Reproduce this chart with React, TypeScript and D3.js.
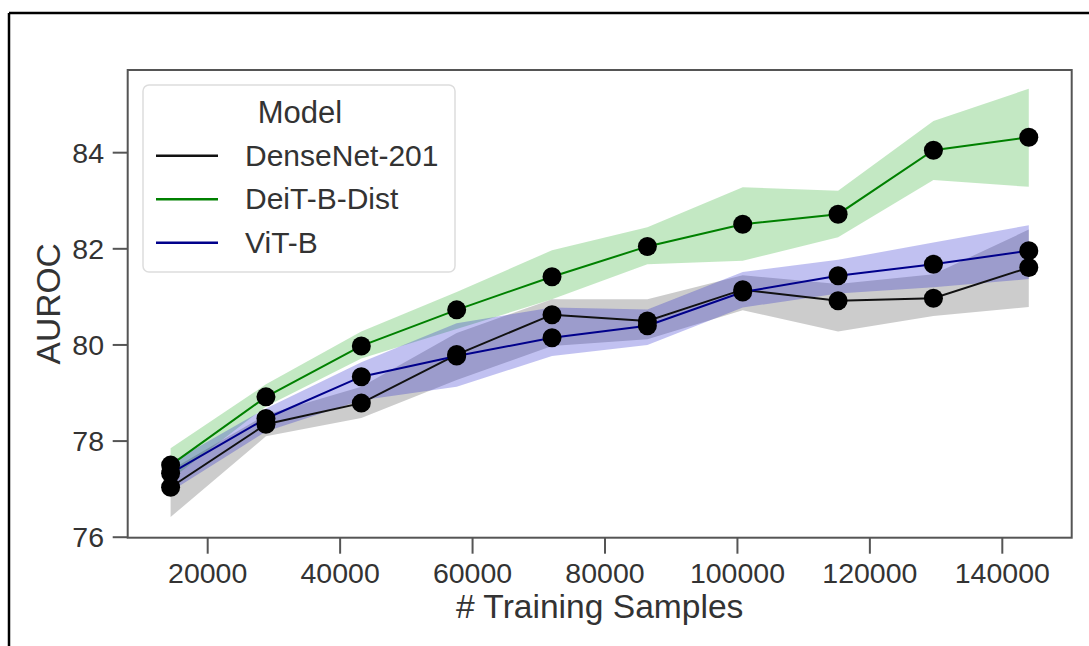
import React from 'react';
import * as d3 from 'd3';

// training set sizes (x) and per-model AUROC mean + band
const samples = [14400, 28800, 43200, 57600, 72000, 86400, 100800, 115200, 129600, 144000];

const denseMean = [77.04, 78.35, 78.79, 79.8, 80.63, 80.5, 81.15, 80.92, 80.97, 81.61];
const denseLo = [76.42, 78.1, 78.48, 79.27, 79.98, 80.12, 80.72, 80.28, 80.6, 80.79];
const denseHi = [77.4, 78.55, 79.13, 80.25, 80.95, 80.95, 81.45, 81.27, 81.47, 82.4];

const deitMean = [77.5, 78.92, 79.98, 80.73, 81.42, 82.05, 82.51, 82.72, 84.05, 84.32];
const deitLo = [77.2, 78.72, 79.72, 80.33, 80.95, 81.68, 81.75, 82.24, 83.43, 83.29];
const deitHi = [77.85, 79.18, 80.28, 81.1, 81.97, 82.45, 83.28, 83.21, 84.66, 85.33];

const vitMean = [77.33, 78.47, 79.34, 79.77, 80.15, 80.4, 81.1, 81.44, 81.68, 81.96];
const vitLo = [76.95, 78.2, 78.85, 79.13, 79.77, 80.0, 80.78, 81.07, 81.2, 81.37];
const vitHi = [77.55, 78.68, 79.64, 80.45, 80.78, 80.74, 81.52, 81.77, 82.13, 82.49];

const xTicks = [20000, 40000, 60000, 80000, 100000, 120000, 140000];
const yTicks = [76, 78, 80, 82, 84];

const models = [
  { name: 'DenseNet-201', line: '#111111', band: '#000000', bandOpacity: 0.2, mean: denseMean, lo: denseLo, hi: denseHi },
  { name: 'DeiT-B-Dist', line: '#008000', band: '#22aa22', bandOpacity: 0.27, mean: deitMean, lo: deitLo, hi: deitHi },
  { name: 'ViT-B', line: '#00008b', band: '#1a1acc', bandOpacity: 0.27, mean: vitMean, lo: vitLo, hi: vitHi },
];

const W = 1089;
const H = 646;
const plot = { left: 127.7, right: 1071.7, top: 70, bottom: 537.7 };
const font = '"Liberation Sans", Arial, sans-serif';
const axisColor = '#555';

export default function App() {
  const x = d3.scaleLinear().domain([7920, 150480]).range([plot.left, plot.right]);
  const y = d3.scaleLinear().domain([75.99, 85.72]).range([plot.bottom, plot.top]);

  const area = (lo: number[], hi: number[]) =>
    d3.area<number>()
      .x((d) => x(d))
      .y0((d, i) => y(lo[i]))
      .y1((d, i) => y(hi[i]))(samples) || '';

  const line = (vals: number[]) =>
    d3.line<number>()
      .x((d) => x(d))
      .y((d, i) => y(vals[i]))(samples) || '';

  const legendX = 143;
  const legendY = 85;

  return (
    <svg width={W} height={H} style={{ position: 'absolute', left: 0, top: 0, background: '#fff' }} fontFamily={font}>
      {/* outer frame (only top and left visible) */}
      <line x1={9} x2={W} y1={13} y2={13} stroke="#000" strokeWidth={2.5} />
      <line x1={9} x2={9} y1={13} y2={H} stroke="#000" strokeWidth={2.5} />

      {/* bands */}
      {models.map((m) => (
        <path key={m.name + '-band'} d={area(m.lo, m.hi)} fill={m.band} fillOpacity={m.bandOpacity} stroke="none" />
      ))}

      {/* lines */}
      {models.map((m) => (
        <path key={m.name + '-line'} d={line(m.mean)} fill="none" stroke={m.line} strokeWidth={2} />
      ))}

      {/* markers */}
      {models.map((m) =>
        samples.map((s, i) => (
          <circle key={m.name + i} cx={x(s)} cy={y(m.mean[i])} r={9.5} fill="#000" />
        ))
      )}

      {/* spines */}
      <rect x={plot.left} y={plot.top} width={plot.right - plot.left} height={plot.bottom - plot.top}
        fill="none" stroke={axisColor} strokeWidth={2} />

      {/* y axis */}
      {yTicks.map((t) => (
        <g key={'y' + t}>
          <line x1={plot.left - 15} x2={plot.left} y1={y(t)} y2={y(t)} stroke={axisColor} strokeWidth={2} />
          <text x={104} y={y(t) + 10} textAnchor="end" fontSize={28.5} fill="#333">{t}</text>
        </g>
      ))}
      <text transform={`translate(60, ${(plot.top + plot.bottom) / 2}) rotate(-90)`} textAnchor="middle"
        fontSize={33.6} fill="#333">AUROC</text>

      {/* x axis */}
      {xTicks.map((t) => (
        <g key={'x' + t}>
          <line x1={x(t)} x2={x(t)} y1={plot.bottom} y2={plot.bottom + 16} stroke={axisColor} strokeWidth={2} />
          <text x={x(t)} y={583} textAnchor="middle" fontSize={28.5} fill="#333">{t}</text>
        </g>
      ))}
      <text x={(plot.left + plot.right) / 2} y={618} textAnchor="middle" fontSize={33.6} fill="#333"># Training Samples</text>

      {/* legend */}
      <rect x={legendX} y={legendY} width={312} height={187} rx={6} fill="#fff" fillOpacity={0.85}
        stroke="#ddd" strokeWidth={1.5} />
      <text x={300} y={123} textAnchor="middle" fontSize={31} fill="#333">Model</text>
      {models.map((m, i) => (
        <g key={m.name + '-leg'}>
          <line x1={156} x2={218} y1={155.7 + i * 43.5} y2={155.7 + i * 43.5} stroke={m.line} strokeWidth={2.5} />
          <text x={245} y={165.5 + i * 43.5} fontSize={30} fill="#333">{m.name}</text>
        </g>
      ))}
    </svg>
  );
}
